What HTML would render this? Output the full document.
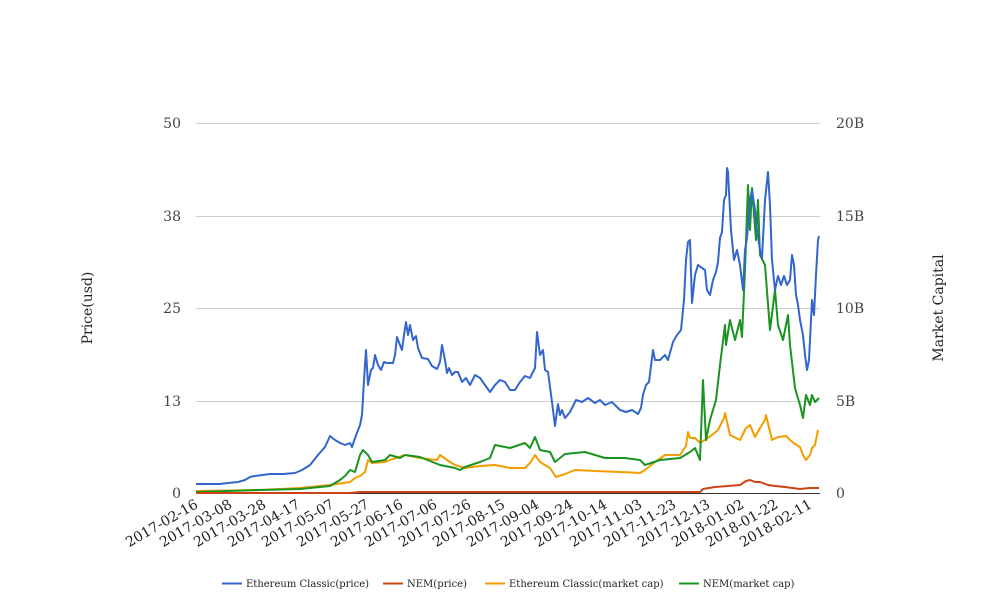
<!DOCTYPE html>
<html><head><meta charset="utf-8"><style>body{margin:0;background:#fff}svg{display:block}</style></head><body>
<svg width="1008" height="616" xmlns="http://www.w3.org/2000/svg" font-family="'DejaVu Serif','Liberation Serif',serif">
<g stroke="#ccc" stroke-width="1">
<line x1="196" y1="123.5" x2="820" y2="123.5"/><line x1="196" y1="216.5" x2="820" y2="216.5"/><line x1="196" y1="308.5" x2="820" y2="308.5"/><line x1="196" y1="401.5" x2="820" y2="401.5"/>
</g>
<line x1="196" y1="493.5" x2="820" y2="493.5" stroke="#333" stroke-width="1"/>
<g font-size="14" fill="#444" text-anchor="end">
<text x="181" y="128">50</text><text x="181" y="221">38</text><text x="181" y="313">25</text><text x="181" y="406">13</text><text x="181" y="498">0</text>
</g>
<g font-size="14" fill="#444">
<text x="836" y="128">20B</text><text x="836" y="221">15B</text><text x="836" y="313">10B</text><text x="836" y="406">5B</text><text x="836" y="498">0</text>
</g>
<text transform="translate(92,308) rotate(-90)" font-size="14" fill="#222" text-anchor="middle">Price(usd)</text>
<text transform="translate(943,308) rotate(-90)" font-size="14" fill="#222" text-anchor="middle">Market Capital</text>
<g font-size="14" fill="#222" text-anchor="end">
<text transform="translate(199,507) rotate(-30)">2017-02-16</text>
<text transform="translate(233,507) rotate(-30)">2017-03-08</text>
<text transform="translate(267,507) rotate(-30)">2017-03-28</text>
<text transform="translate(301,507) rotate(-30)">2017-04-17</text>
<text transform="translate(335,507) rotate(-30)">2017-05-07</text>
<text transform="translate(370,507) rotate(-30)">2017-05-27</text>
<text transform="translate(404,507) rotate(-30)">2017-06-16</text>
<text transform="translate(438,507) rotate(-30)">2017-07-06</text>
<text transform="translate(472,507) rotate(-30)">2017-07-26</text>
<text transform="translate(506,507) rotate(-30)">2017-08-15</text>
<text transform="translate(540,507) rotate(-30)">2017-09-04</text>
<text transform="translate(574,507) rotate(-30)">2017-09-24</text>
<text transform="translate(608,507) rotate(-30)">2017-10-14</text>
<text transform="translate(643,507) rotate(-30)">2017-11-03</text>
<text transform="translate(677,507) rotate(-30)">2017-11-23</text>
<text transform="translate(711,507) rotate(-30)">2017-12-13</text>
<text transform="translate(745,507) rotate(-30)">2018-01-02</text>
<text transform="translate(779,507) rotate(-30)">2018-01-22</text>
<text transform="translate(813,507) rotate(-30)">2018-02-11</text>
</g>
<g fill="none" stroke-width="2" stroke-linejoin="round">
<polyline stroke="#f59d00" points="196,491 260,490 300,488 330,485 350,482 355,478 360,476 365,472 368,460 372,463 385,462 390,460 405,455 420,458 437,460 440,455 450,462 455,465 465,468 480,466 495,465 510,468 525,468 530,463 535,455 540,462 545,465 550,468 556,477 565,474 575,470 595,471 620,472 640,473 645,470 655,462 665,455 680,455 686,446 688,432 690,438 695,438 700,443 708,438 718,430 724,418 725,413 730,435 740,440 746,428 750,425 755,437 760,428 765,420 766,415 772,440 778,437 786,436 790,440 795,444 800,447 803,455 806,460 810,455 812,448 815,445 818,430"/>
<polyline stroke="#1a9420" points="196,492 260,490 300,489 330,486 340,480 345,476 350,470 355,472 360,455 363,450 368,455 372,462 385,460 390,455 400,458 405,455 420,457 440,465 455,468 460,470 465,467 480,462 490,458 495,445 510,448 525,443 530,448 535,437 540,450 550,452 555,462 565,454 585,452 605,458 625,458 640,460 645,465 660,460 680,458 690,452 695,448 700,460 703,380 706,440 710,420 716,400 720,365 725,325 726,345 730,320 735,340 740,320 742,337 745,270 748,185 750,230 752,188 756,240 758,200 760,255 765,265 770,330 775,290 778,325 783,340 788,315 790,345 795,388 797,395 800,405 803,418 806,395 810,405 812,395 815,402 819,398"/>
<polyline stroke="#cc4416" points="196,493 350,493 360,492 700,492 703,489 715,487 728,486 740,485 746,481 750,480 755,482 760,482 768,485 775,486 785,487 800,489 810,488 819,488"/>
<polyline stroke="#3366cc" points="196,484 220,484 228,483 238,482 245,480 250,477 255,476 262,475 270,474 275,474 283,474 295,473 302,470 310,465 318,455 325,447 330,436 335,440 340,443 345,445 350,443 352,447 355,438 360,425 362,415 364,380 366,350 368,385 371,370 373,368 375,355 378,365 381,370 384,362 387,363 393,363 395,355 397,337 400,345 402,350 404,335 406,322 408,335 410,325 413,340 416,336 418,348 422,358 428,359 432,366 437,369 440,362 442,345 445,360 447,373 449,368 452,375 455,372 458,372 462,382 466,378 470,385 475,375 480,378 485,385 490,392 495,385 500,380 505,382 510,390 515,390 520,382 525,376 530,378 535,368 537,332 540,355 543,350 545,370 548,372 552,402 555,426 558,404 560,415 562,410 565,418 570,412 576,400 582,402 588,398 595,403 600,400 605,405 612,402 620,410 626,412 632,410 638,414 641,408 643,395 646,385 649,382 653,350 655,360 660,360 665,355 668,360 673,342 677,335 681,330 684,300 686,260 688,242 690,240 692,303 695,275 698,265 702,268 705,270 707,290 710,295 713,280 716,272 718,262 720,238 722,232 724,200 726,195 727,168 728,172 731,230 734,260 737,250 740,265 743,290 745,250 747,238 750,200 752,190 755,210 757,230 760,250 762,258 765,200 768,172 770,205 772,260 775,290 778,276 781,285 784,276 787,285 790,280 792,255 794,265 796,295 798,305 800,320 803,335 805,355 807,370 809,360 812,300 814,315 816,275 818,240 819,236"/>
</g>
<g font-size="10" fill="#222">
<line x1="222" y1="583.5" x2="242" y2="583.5" stroke="#3366cc" stroke-width="2"/><text x="246" y="587">Ethereum Classic(price)</text>
<line x1="383" y1="583.5" x2="403" y2="583.5" stroke="#cc4416" stroke-width="2"/><text x="407" y="587">NEM(price)</text>
<line x1="485" y1="583.5" x2="505" y2="583.5" stroke="#f59d00" stroke-width="2"/><text x="509" y="587">Ethereum Classic(market cap)</text>
<line x1="679" y1="583.5" x2="699" y2="583.5" stroke="#1a9420" stroke-width="2"/><text x="703" y="587">NEM(market cap)</text>
</g>
</svg>
</body></html>
